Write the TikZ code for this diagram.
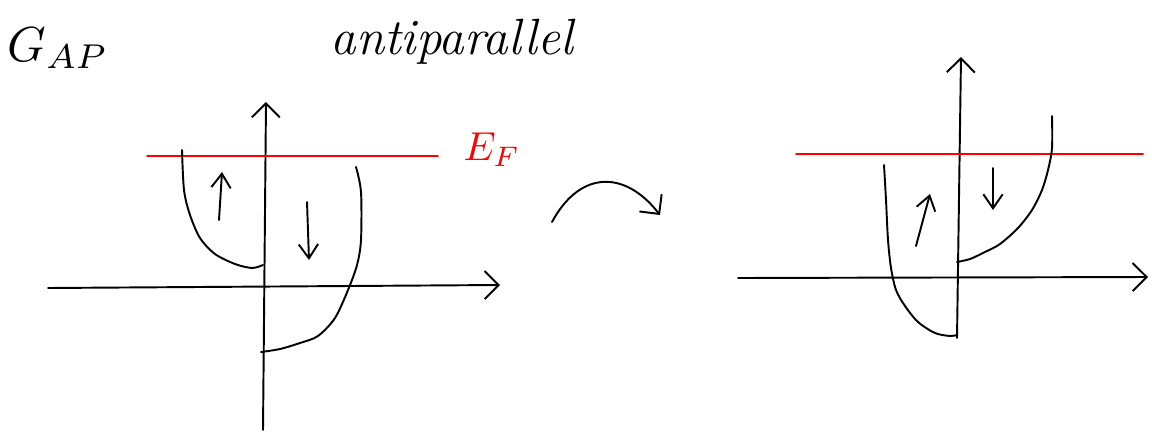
\documentclass[tikz,border=0pt]{standalone}
\usepackage{amsmath}
\usetikzlibrary{arrows.meta}

\begin{document}
\begin{tikzpicture}[x=0.02cm,y=-0.02cm,line width=1.1pt,line cap=round,
    axisarrow/.style={-{Straight Barb[length=8pt,width=16pt]}},
    spinarrow/.style={-{Straight Barb[length=8pt,width=11pt]}}]
    \useasboundingbox (0,0) rectangle (1152,433);
    % titles
    \node[scale=2.8] (gap) at (58,48) {$G_{AP}$};
    \node (title) at (452,42) {\fontsize{29}{32}\selectfont\itshape antiparallel};

    % left picture: axes
    \coordinate (O1) at (263,288);
    \draw[axisarrow] (48,288) -- (500,285);
    \draw[axisarrow] (263,430) -- (266,102);
    % Fermi level
    \draw[red] (147,156) -- (438,156);
    \node[red,scale=2.3] (ef) at (492,150) {$E_F$};
    % bands
    \draw plot[smooth] coordinates {(182,150) (184,190) (190,215) (200,238) (215,254) (235,264) (252,268) (263,265)};
    \draw plot[smooth] coordinates {(356,167) (361,192) (361,240) (357,265) (348,290) (335,318) (318,336) (300,343) (280,349) (261,352)};
    % spin arrows
    \draw[spinarrow] (219,220) -- (222,172);
    \draw[spinarrow] (307,202) -- (309,260);

    % arrow to the right picture
    \draw[axisarrow] (552,222) .. controls (580,170) and (625,170) .. (660,215);

    % right picture: axes
    \coordinate (O2) at (957,278);
    \draw[axisarrow] (738,278) -- (1148,277);
    \draw[axisarrow] (957,338) -- (961,57);
    % Fermi level
    \draw[red] (796,154) -- (1143,154);
    % bands
    \draw plot[smooth] coordinates {(884,165) (886,200) (888,240) (891,268) (896,290) (905,306) (918,322) (935,333) (950,336) (957,335)};
    \draw plot[smooth] coordinates {(1052,116) (1052,148) (1048,170) (1042,190) (1032,210) (1018,228) (1000,244) (985,252) (970,259) (957,262)};
    % spin arrows
    \draw[spinarrow] (916,246) -- (930,194);
    \draw[spinarrow] (993,168) -- (993,210);
\end{tikzpicture}
\end{document}
